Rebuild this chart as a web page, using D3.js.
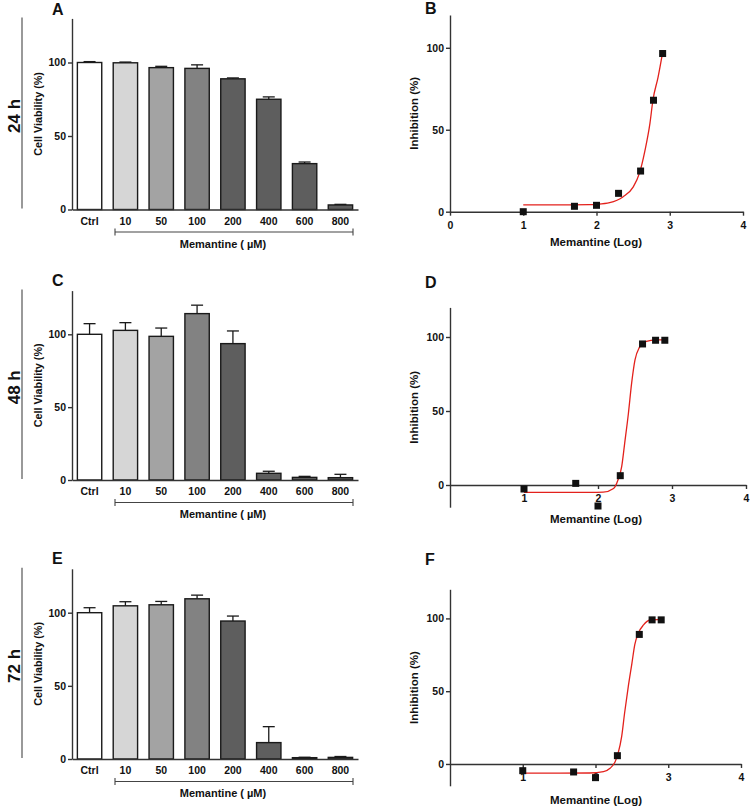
<!DOCTYPE html>
<html><head><meta charset="utf-8">
<script src="https://cdn.jsdelivr.net/npm/d3@7"></script>
<style>body{margin:0;background:#fff}svg{display:block}</style>
</head><body>
<svg id="c" width="750" height="806"></svg>
<script>
// ---------- data ----------
const categories = ["Ctrl","10","50","100","200","400","600","800"];
const barColors = ["#ffffff","#d6d6d6","#a3a3a3","#828282","#5e5e5e","#5e5e5e","#5e5e5e","#5e5e5e"];
const viability24 = [100, 99.8, 96.5, 96, 88.9, 75, 31.2, 3.1];
const err24       = [0.6, 0.5, 0.9, 2.4, 0.6, 1.6, 1.1, 0.4];
const viability48 = [100, 102.7, 98.6, 114.2, 93.6, 4.6, 1.8, 1.6];
const err48       = [7.3, 5.3, 5.7, 5.8, 8.7, 1.4, 0.7, 2.3];
const viability72 = [100, 104.7, 105.4, 109.5, 94.3, 11.2, 0.9, 1.1];
const err72       = [3.4, 2.8, 2.3, 2.5, 3.4, 10.9, 0.3, 0.6];
const barTicks = [0, 50, 100];

const logDose = [1, 1.699, 2, 2.301, 2.602, 2.778, 2.903];
const inhib24 = [0, 3.3, 3.9, 11.2, 24.8, 68, 96.5];
const inhib48 = [-2.7, 1.1, -14.2, 6.3, 95.3, 97.8, 97.8];
const inhib72 = [-4.6, -5.5, -9.4, 5.7, 89, 99, 99];
// fitted curves: [log dose, inhibition]
const fit24 = [[1,4.2],[1.5,4.2],[1.9,4.3],[2.0,4.5],[2.18,5.5],[2.36,9],[2.5,15],[2.59,24],[2.66,37],[2.73,54],[2.77,68],[2.84,82],[2.9,96.5]];
const fit48 = [[1,-5],[1.5,-5],[1.9,-5],[2.07,-4.8],[2.21,-2.3],[2.27,3.4],[2.32,12.4],[2.36,28],[2.41,48],[2.455,69],[2.5,84.5],[2.56,93],[2.64,96.8],[2.79,98],[2.9,98]];
const fit72 = [[1,-6.3],[1.5,-6.3],[1.92,-6.2],[2.11,-5.3],[2.2,-3],[2.27,1.6],[2.31,7.3],[2.36,19],[2.4,35],[2.45,53],[2.5,69],[2.54,82],[2.59,90],[2.66,95.5],[2.75,98.9],[2.9,99.4]];
const xTicksB = [0,1,2,3,4];
const xTicksDF = [1,2,3,4];
const inhibTicks = [0,50,100];

// ---------- drawing ----------
const FONT = "Arial, 'Liberation Sans', Helvetica, sans-serif";
const svg = d3.select("#c");
const AX = "#333";

function styleAxis(g){
  g.selectAll("path,line").attr("stroke", AX).attr("stroke-width", 1.4);
  g.selectAll("text").attr("font-family", FONT).attr("font-weight", "bold")
    .attr("font-size", 10.5).attr("fill", "#111");
}

function panelLetter(t, x, y){
  svg.append("text").attr("x", x).attr("y", y).text(t)
    .attr("font-family", FONT).attr("font-weight", "bold").attr("font-size", 16).attr("fill", "#111");
}

function barPanel(o){
  const x = d3.scaleBand().domain(categories).range([72, 358]).paddingInner(0.32).paddingOuter(0.15);
  const y = d3.scaleLinear().domain([0, 130]).range([o.y0, o.yTop]);
  const g = svg.append("g");
  // time label + line
  g.append("line").attr("x1", 22).attr("x2", 22).attr("y1", o.yTop - 1).attr("y2", o.y0 - 1)
    .attr("stroke", "#555").attr("stroke-width", 1.2);
  const cy = (o.y0 + o.yTop) / 2 + 2;
  g.append("text").attr("transform", `translate(20,${cy}) rotate(-90)`).attr("text-anchor", "middle")
    .text(o.time).attr("font-family", FONT).attr("font-weight", "bold").attr("font-size", 17).attr("fill", "#111");
  // bars
  g.selectAll("rect.b").data(o.values).join("rect")
    .attr("x", (d, i) => x(categories[i])).attr("width", x.bandwidth())
    .attr("y", d => y(d)).attr("height", d => y(0) - y(d))
    .attr("fill", (d, i) => barColors[i]).attr("stroke", "#1a1a1a").attr("stroke-width", 1.4);
  // error bars (upper only)
  const cw = 6;
  o.values.forEach((v, i) => {
    const cx = x(categories[i]) + x.bandwidth() / 2;
    g.append("line").attr("x1", cx).attr("x2", cx).attr("y1", y(v)).attr("y2", y(v + o.err[i]))
      .attr("stroke", "#1a1a1a").attr("stroke-width", 1.3);
    g.append("line").attr("x1", cx - cw).attr("x2", cx + cw).attr("y1", y(v + o.err[i])).attr("y2", y(v + o.err[i]))
      .attr("stroke", "#1a1a1a").attr("stroke-width", 1.3);
  });
  // axes
  const ya = g.append("g").attr("transform", "translate(72,0)")
    .call(d3.axisLeft(y).tickValues(barTicks).tickSize(4).tickSizeOuter(0).tickPadding(2));
  styleAxis(ya);
  const xa = g.append("g").attr("transform", `translate(0,${o.y0})`)
    .call(d3.axisBottom(x).tickSize(0).tickSizeOuter(0).tickPadding(8));
  styleAxis(xa);
  // y label
  g.append("text").attr("transform", `translate(41.5,${(o.y0 + o.yTop) / 2}) rotate(-90)`).attr("text-anchor", "middle")
    .text("Cell Viability (%)").attr("font-family", FONT).attr("font-weight", "bold").attr("font-size", 10.8).attr("fill", "#111");
  // bracket
  const by = o.y0 + 22.5;
  const bx1 = 115, bx2 = 353;
  g.append("path").attr("d", `M${bx1},${by - 3.5}V${by + 3.5}M${bx1},${by}H${bx2}M${bx2},${by - 3.5}V${by + 3.5}`)
    .attr("stroke", "#444").attr("stroke-width", 1.1).attr("fill", "none");
  g.append("text").attr("x", 223).attr("y", o.y0 + 38).attr("text-anchor", "middle")
    .text("Memantine ( \u00b5M)").attr("font-family", FONT).attr("font-weight", "bold").attr("font-size", 11).attr("fill", "#111");
}

function curvePanel(o){
  const x = d3.scaleLinear().domain([0, 4]).range([450, o.x4]);
  const y = d3.scaleLinear().domain([o.yMin, 120]).range([o.yBot, o.yTop]);
  const g = svg.append("g");
  const xa = g.append("g").attr("transform", `translate(0,${y(0)})`)
    .call(d3.axisBottom(x).tickValues(o.xTicks).tickFormat(d3.format("d")).tickSize(4).tickSizeOuter(0).tickPadding(5.5));
  styleAxis(xa);
  const ya = g.append("g").attr("transform", "translate(450,0)")
    .call(d3.axisLeft(y).tickValues(inhibTicks).tickSize(4).tickSizeOuter(0).tickPadding(2));
  styleAxis(ya);
  const line = d3.line().x(d => x(d[0])).y(d => y(d[1])).curve(d3.curveMonotoneX);
  g.append("path").attr("d", line(o.fit)).attr("fill", "none").attr("stroke", "#e3211c").attr("stroke-width", 1.3);
  const s = 7;
  g.selectAll("rect.p").data(o.values).join("rect")
    .attr("x", (d, i) => x(logDose[i]) - s / 2).attr("y", d => y(d) - s / 2)
    .attr("width", s).attr("height", s).attr("fill", "#111");
  g.append("text").attr("transform", `translate(417.5,${(o.yBot + o.yTop) / 2}) rotate(-90)`).attr("text-anchor", "middle")
    .text("Inhibition (%)").attr("font-family", FONT).attr("font-weight", "bold").attr("font-size", 11.5).attr("fill", "#111");
  g.append("text").attr("x", 596).attr("y", o.labY).attr("text-anchor", "middle")
    .text("Memantine (Log)").attr("font-family", FONT).attr("font-weight", "bold").attr("font-size", 11.5).attr("fill", "#111");
}

barPanel({time: "24 h", values: viability24, err: err24, y0: 209.5, yTop: 18.4});
barPanel({time: "48 h", values: viability48, err: err48, y0: 480, yTop: 290.6});
barPanel({time: "72 h", values: viability72, err: err72, y0: 759, yTop: 568.8});

curvePanel({values: inhib24, fit: fit24, yMin: 0, yBot: 211.7, yTop: 15, x4: 743, xTicks: xTicksB, labY: 246});
curvePanel({values: inhib48, fit: fit48, yMin: -15, yBot: 507.2, yTop: 307.4, x4: 746, xTicks: xTicksDF, labY: 523});
curvePanel({values: inhib72, fit: fit72, yMin: -15, yBot: 785.8, yTop: 589.3, x4: 741, xTicks: xTicksDF, labY: 804});

panelLetter("A", 52, 15);
panelLetter("C", 52, 286);
panelLetter("E", 52, 564);
panelLetter("B", 425, 14);
panelLetter("D", 425, 288);
panelLetter("F", 425, 565);
</script>
</body></html>
